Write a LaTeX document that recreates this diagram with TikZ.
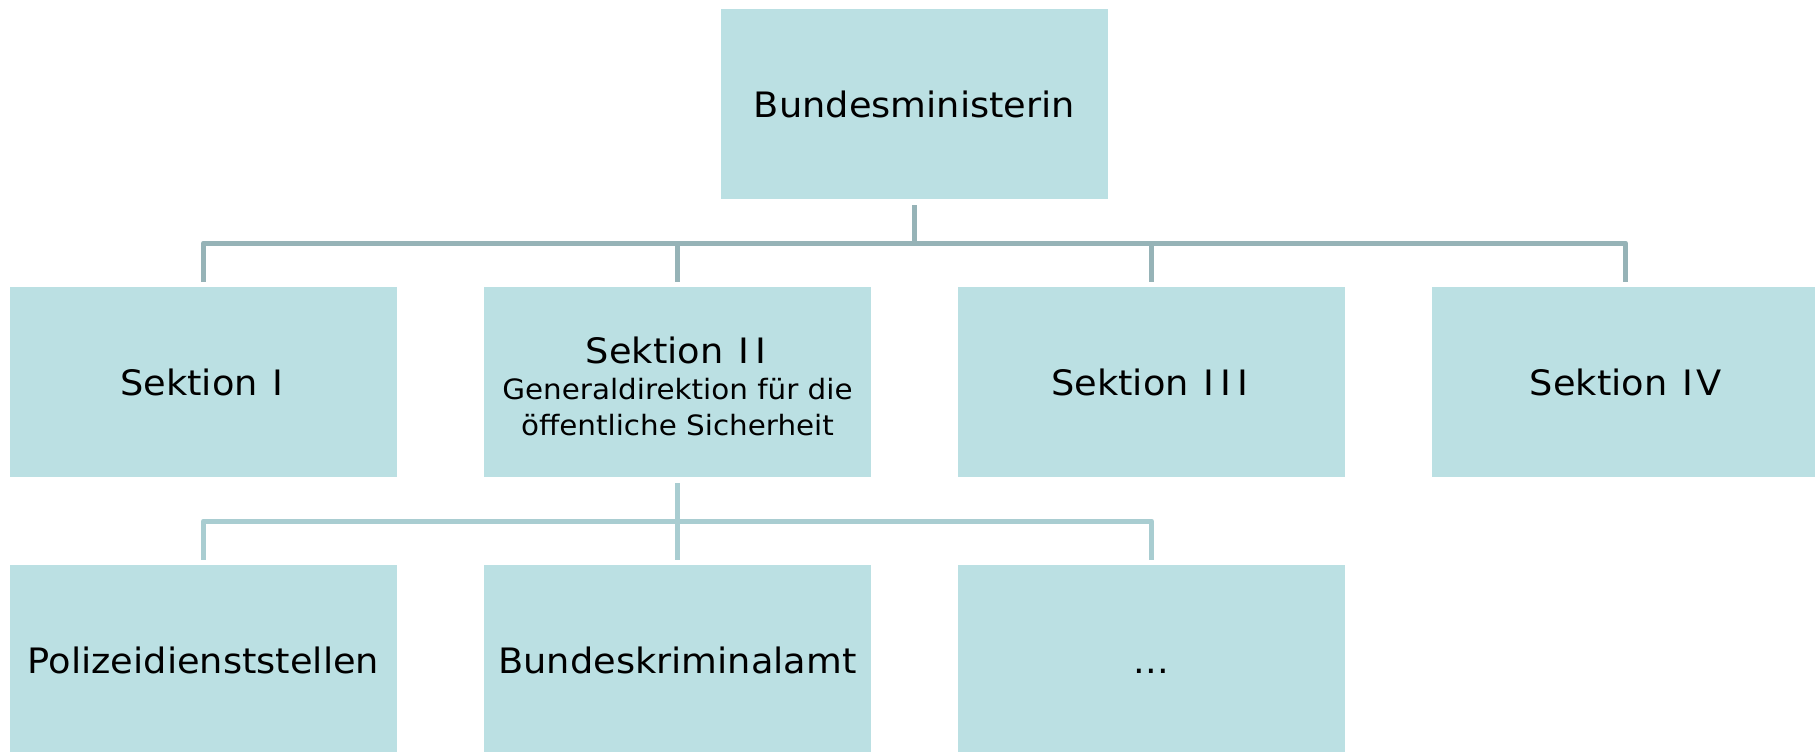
\documentclass[tikz,border=0pt]{standalone}
\usepackage{fontspec}
\setmainfont{DejaVu Sans}[FakeStretch=1.05]
\definecolor{boxfill}{HTML}{BBE0E3}
\definecolor{connA}{HTML}{96B3B7}
\definecolor{connB}{HTML}{A9CDD1}
\newcommand{\RomI}{\makebox[17pt]{I}}
\tikzset{
  orgbox/.style={fill=boxfill, draw=none, inner sep=0pt, minimum width=387pt, minimum height=190pt, align=center, font=\fontsize{35}{42}\selectfont, text=black},
  connone/.style={draw=connA, line width=5pt, line join=round},
  conntwo/.style={draw=connB, line width=5pt, line join=round},
}
\begin{document}
\begin{tikzpicture}[x=1pt,y=-1pt]
\useasboundingbox (0,0) rectangle (1815,752);
\clip (0,0) rectangle (1815,752);
\fill[white] (0,0) rectangle (1815,752);
\node[orgbox] (min) at (914.5,104) {Bundesministerin};
\node[orgbox] (s1) at (203.5,382) {Sektion \RomI};
\node[orgbox] (s2) at (677.5,382) {\rule{0pt}{36pt}Sektion \RomI\RomI\\[-6pt]{\fontsize{28}{36}\selectfont Generaldirektion für die}\\[-6pt]{\fontsize{28}{36}\selectfont öffentliche Sicherheit}};
\node[orgbox] (s3) at (1151.5,382) {Sektion \RomI\RomI\RomI};
\node[orgbox] (s4) at (1625.5,382) {Sektion \RomI V};
\node[orgbox] (p1) at (203.5,660) {Polizeidienststellen};
\node[orgbox] (p2) at (677.5,660) {Bundeskriminalamt};
\node[orgbox] (p3) at (1151.5,660) {\vphantom{Bundeskriminalamt}...};
\coordinate (busA) at (914.5,243);
\coordinate (busB) at (677.5,521);
% upper connectors
\draw[connone] ([yshift=-6pt]min.south) -- (min.south |- busA);
\draw[connone] ([yshift=5pt]s1.north) |- (busA) -| ([yshift=5pt]s4.north);
\draw[connone] (s2.north |- busA) -- ([yshift=5pt]s2.north);
\draw[connone] (s3.north |- busA) -- ([yshift=5pt]s3.north);
% lower connectors
\draw[conntwo] ([yshift=-6pt]s2.south) -- ([yshift=5pt]p2.north);
\draw[conntwo] ([yshift=5pt]p1.north) |- (busB) -| ([yshift=5pt]p3.north);
\end{tikzpicture}
\end{document}
